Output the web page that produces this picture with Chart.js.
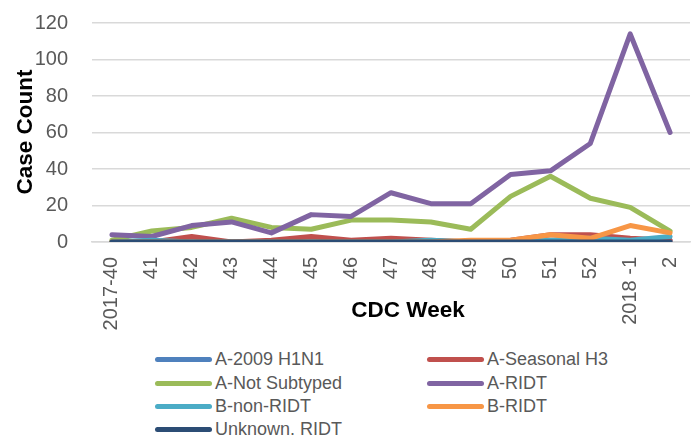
<!DOCTYPE html>
<html>
<head>
<meta charset="utf-8">
<script src="https://cdn.jsdelivr.net/npm/chart.js@4/dist/chart.umd.min.js"></script>
<style>
  body { margin: 0; background: #fff; }
  #wrap { position: relative; width: 694px; height: 436px; overflow: hidden; }
  #chartBox { position: absolute; left: 0; top: 0; width: 694px; height: 345px; }
  #legend { position: absolute; left: 0; top: 347px; width: 694px; height: 89px;
            font-family: "Liberation Sans", Arial, sans-serif; font-size: 18px; color: #595959; }
  .item { position: absolute; height: 24px; line-height: 24px; white-space: nowrap; }
  .item span.swatch { display: inline-block; width: 57px; height: 5px; border-radius: 3px;
                      vertical-align: middle; margin-right: 3px; position: relative; top: -1px; }
</style>
</head>
<body>
<div id="wrap">
  <div id="chartBox"><canvas id="chart"></canvas></div>
  <div id="legend"></div>
</div>
<script>
// CDC weeks on the x axis
const weeks = ["2017-40", "41", "42", "43", "44", "45", "46", "47", "48", "49", "50", "51", "52", "2018 -1", "2"];

const yTicks = [0, 20, 40, 60, 80, 100, 120];

const seriesNames = ["A-2009 H1N1", "A-Seasonal H3", "A-Not Subtyped", "A-RIDT",
                     "B-non-RIDT", "B-RIDT", "Unknown. RIDT"];

const h1n1       = [0, 0, 0, 0, 0, 0, 0, 0, 0, 0, 0, 0, 0, 0, 1];
const seasonalH3 = [0, 0, 3, 0, 1, 3, 1, 2, 1, 0, 1, 4, 4, 2, 1];
const notSubtyped= [1, 6, 8, 13, 8, 7, 12, 12, 11, 7, 25, 36, 24, 19, 6];
const aRidt      = [4, 3, 9, 11, 5, 15, 14, 27, 21, 21, 37, 39, 54, 114, 60];
const bNonRidt   = [0, 1, 0, 0, 0, 0, 0, 0, 1, 0, 0, 1, 2, 1, 3];
const bRidt      = [0, 0, 0, 0, 0, 0, 0, 0, 0, 1, 1, 4, 2, 9, 5];
const unknownRidt= [0, 0, 0, 0, 0, 0, 0, 0, 0, 0, 0, 0, 0, 0, 0];

const colors = ["#4F81BD", "#C0504D", "#9BBB59", "#8064A2", "#4BACC6", "#F79646", "#2C4D75"];

const values = [h1n1, seasonalH3, notSubtyped, aRidt, bNonRidt, bRidt, unknownRidt];

const FONT = "'Liberation Sans', Arial, sans-serif";


// axis titles drawn next to the plot area
const axisTitles = {
    id: "axisTitles",
    afterDraw(chart){
        const ctx = chart.ctx;
        ctx.save();
        ctx.fillStyle = "#000";
        ctx.font = "bold 22.5px " + FONT;
        ctx.textAlign = "center";
        ctx.textBaseline = "alphabetic";
        ctx.fillText("CDC Week", 408, 317);
        ctx.translate(32, 132);
        ctx.rotate(-Math.PI / 2);
        ctx.fillText("Case Count", 0, 0);
        ctx.restore();
    }
};


const datasets = seriesNames.map((name, i) => ({
    label: name,
    data: values[i],
    borderColor: colors[i],
    backgroundColor: colors[i],
    borderWidth: 5,
    pointRadius: 0,
    tension: 0,
    fill: false,
    borderJoinStyle: "round",
    borderCapStyle: "round",
    order: seriesNames.length - i
}));


const chart = new Chart(document.getElementById("chart"), {
    type: "line",
    data: {
        labels: weeks,
        datasets: datasets
    },
    options: {
        responsive: true,
        maintainAspectRatio: false,
        animation: false,
        layout: {
            padding: { top: 23, right: 4, left: 0, bottom: 0 }
        },
        plugins: {
            legend: { display: false },
            tooltip: { enabled: false }
        },
        scales: {
            x: {
                offset: true,
                grid: { display: false, offset: true, drawTicks: false },
                border: { display: true, color: "#D9D9D9", width: 1.5 },
                ticks: {
                    color: "#595959",
                    font: { family: FONT, size: 20 },
                    maxRotation: 90,
                    minRotation: 90,
                    autoSkip: false,
                    padding: 15
                },
                afterFit(scale){
                    scale.height = 103;
                    scale.paddingLeft = 0;
                    scale.paddingRight = 0;
                }
            },
            y: {
                min: 0,
                max: 120,
                afterBuildTicks(scale){
                    scale.ticks = yTicks.map(v => ({ value: v }));
                },
                grid: { color: "#D9D9D9", lineWidth: 1.5, drawTicks: false },
                border: { display: false },
                ticks: {
                    color: "#595959",
                    font: { family: FONT, size: 20 },
                    padding: 24
                },
                afterFit(scale){
                    scale.width = 92;
                    scale.paddingTop = 0;
                    scale.paddingBottom = 0;
                }
            }
        }
    },
    plugins: [axisTitles]
});


// two-column legend built from the datasets
const legend = document.getElementById("legend");
const colX = [155, 427];
const rowY = [0, 24, 47, 70];
seriesNames.forEach((name, i) => {
    const el = document.createElement("div");
    el.className = "item";
    el.style.left = colX[i % 2] + "px";
    el.style.top = rowY[Math.floor(i / 2)] + "px";
    el.innerHTML = '<span class="swatch" style="background:' + colors[i] + '"></span>' + name;
    legend.appendChild(el);
});
</script>
</body>
</html>
